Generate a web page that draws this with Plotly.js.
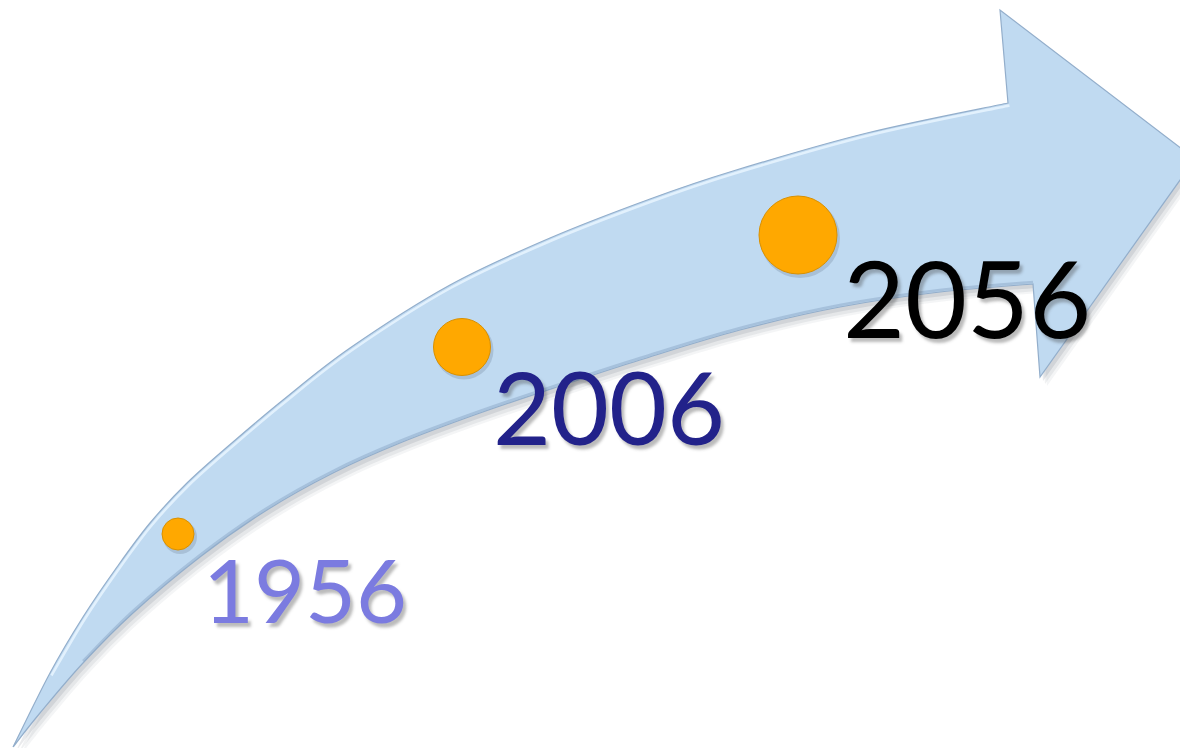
<!DOCTYPE html>
<html>
<head>
<meta charset="utf-8">
<script src="https://cdn.plot.ly/plotly-3.0.1.min.js"></script>
<style>
  html, body { margin: 0; padding: 0; background: #ffffff; }
  #chart { width: 1180px; height: 748px; }
</style>
</head>
<body>
<div id="chart"></div>
<script>
// ---- data ----
const years = ['1956', '2006', '2056'];
const milestoneX = [178, 462, 798];
const milestoneY = [534, 347, 235];
const milestoneSize = [32, 57, 78];
const labelX = [201, 491, 841];
const labelY = [589, 406, 296];
const labelColors = ['#7B7BE0', '#22228A', '#000000'];
const labelSizes = [88, 100, 107];

// arrow outline (upper edge from tail to notch, head, lower edge from notch to tail)
const upperEdgeX = [13, 50, 83, 117, 150, 187, 233, 283, 350, 450, 550, 650, 733, 867, 1008];
const upperEdgeY = [747, 673, 617, 567, 523, 483, 442, 400, 348, 285, 238, 199, 171, 133, 103];
const headX = [1000, 1195, 1040, 1033];
const headY = [10, 159, 377, 284];
const lowerEdgeX = [1033, 940, 840, 740, 640, 560, 480, 400, 333, 267, 200, 133, 83, 40, 13];
const lowerEdgeY = [284, 292, 307, 330, 360, 386, 413, 443, 473, 510, 557, 613, 663, 713, 747];

// ---- helpers ----
function spline(xs, ys, dx, dy, startWithM) {
  dx = dx || 0; dy = dy || 0;
  const p = xs.map((x, i) => [x + dx, ys[i] + dy]);
  let d = startWithM ? 'M ' + p[0][0] + ',' + p[0][1] : '';
  for (let i = 0; i < p.length - 1; i++) {
    const p0 = p[Math.max(0, i - 1)], p1 = p[i], p2 = p[i + 1], p3 = p[Math.min(p.length - 1, i + 2)];
    const c1x = p1[0] + (p2[0] - p0[0]) / 6, c1y = p1[1] + (p2[1] - p0[1]) / 6;
    const c2x = p2[0] - (p3[0] - p1[0]) / 6, c2y = p2[1] - (p3[1] - p1[1]) / 6;
    d += ' C ' + c1x.toFixed(1) + ',' + c1y.toFixed(1) + ' ' + c2x.toFixed(1) + ',' + c2y.toFixed(1) + ' ' + p2[0] + ',' + p2[1];
  }
  return d;
}
function arrowPath(dx, dy) {
  dx = dx || 0; dy = dy || 0;
  let d = spline(upperEdgeX, upperEdgeY, dx, dy, true);
  headX.forEach((x, i) => { d += ' L ' + (x + dx) + ',' + (headY[i] + dy); });
  d += spline(lowerEdgeX, lowerEdgeY, dx, dy, false);
  return d + ' Z';
}

const shapes = [];
// soft drop shadow
[[7, 9, 0.05], [5, 7, 0.07], [3, 4, 0.10]].forEach(s => {
  shapes.push({ type: 'path', xref: 'x', yref: 'y', path: arrowPath(s[0], s[1]),
    fillcolor: 'rgba(40,50,70,' + s[2] + ')', line: { width: 0 }, layer: 'below' });
});
// main body
shapes.push({ type: 'path', xref: 'x', yref: 'y', path: arrowPath(0, 0),
  fillcolor: '#C0DAF1', line: { color: '#93AECB', width: 1.2 }, layer: 'below' });
// bevel highlight along upper edge
shapes.push({ type: 'path', xref: 'x', yref: 'y',
  path: spline(upperEdgeX.slice(1), upperEdgeY.slice(1), 1.5, 2.5, true),
  line: { color: 'rgba(232,244,255,0.85)', width: 2.5 }, fillcolor: 'rgba(0,0,0,0)', layer: 'below' });
// bevel shade along lower edge
shapes.push({ type: 'path', xref: 'x', yref: 'y',
  path: spline(lowerEdgeX.slice(0, 13), lowerEdgeY.slice(0, 13), 0, -2, true),
  line: { color: 'rgba(140,168,200,0.5)', width: 2.5 }, fillcolor: 'rgba(0,0,0,0)', layer: 'below' });

// ---- traces ----
const shadowTrace = {
  type: 'scatter', mode: 'markers', hoverinfo: 'skip', opacity: 1,
  x: milestoneX.map(v => v + 2), y: milestoneY.map(v => v + 3),
  marker: { size: milestoneSize.map(s => s + 2), color: 'rgba(40,50,70,0.22)', line: { width: 0 } }
};
const dotTrace = {
  type: 'scatter', mode: 'markers', text: years, hoverinfo: 'text', opacity: 1,
  x: milestoneX, y: milestoneY,
  marker: { size: milestoneSize, color: '#FFA800', opacity: 1,
    line: { color: '#D99000', width: 1 } }
};

const annotations = years.map((yr, i) => ({
  x: labelX[i], y: labelY[i], xref: 'x', yref: 'y', text: yr, showarrow: false,
  xanchor: 'left', yanchor: 'middle',
  font: { family: 'Lato, "Liberation Sans", sans-serif', size: labelSizes[i], color: labelColors[i],
    shadow: '3px 4px 3px rgba(60,60,60,0.35)' }
}));

const layout = {
  width: 1180, height: 748,
  margin: { l: 0, r: 0, t: 0, b: 0, pad: 0 },
  paper_bgcolor: '#ffffff', plot_bgcolor: '#ffffff',
  showlegend: false,
  xaxis: { range: [0, 1180], visible: false, fixedrange: true },
  yaxis: { range: [748, 0], visible: false, fixedrange: true },
  shapes: shapes,
  annotations: annotations
};

Plotly.newPlot('chart', [shadowTrace, dotTrace], layout, { displayModeBar: false, staticPlot: true });
</script>
</body>
</html>
